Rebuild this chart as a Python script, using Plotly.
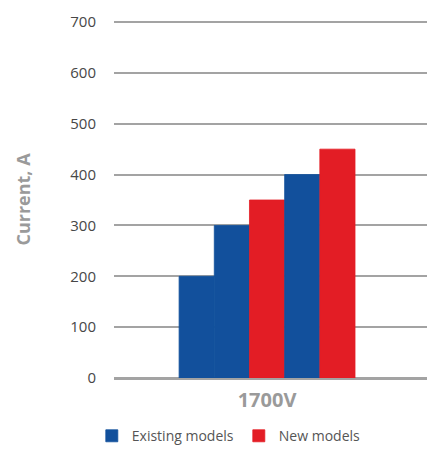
import plotly.graph_objects as go

category = ["1700V"]
series_names = ["Existing models", "Existing models", "New models", "Existing models", "New models"]
series_values = [200, 300, 350, 400, 450]
y_ticks = [0, 100, 200, 300, 400, 500, 600, 700]

colors = {"Existing models": "#12509c", "New models": "#e31d25"}

fig = go.Figure()
shown = set()
for name, val in zip(series_names, series_values):
    fig.add_trace(go.Bar(
        x=category, y=[val], name=name, legendgroup=name,
        showlegend=name not in shown,
        marker=dict(color=colors[name], line=dict(width=0.8, color=colors[name])),
    ))
    shown.add(name)

fig.update_layout(
    width=427, height=454,
    margin=dict(l=114, r=0, t=21, b=76),
    paper_bgcolor="white", plot_bgcolor="white",
    barmode="group", bargap=0.438, bargroupgap=0,
    font=dict(family="Open Sans", color="#555555"),
    showlegend=True,
    legend=dict(orientation="h", xref="container", x=0.215, xanchor="left",
                yref="container", y=0.004, yanchor="bottom",
                font=dict(size=14, color="#555555"), itemwidth=30,
                traceorder="normal"),
    xaxis=dict(range=[-0.489, 0.511], showgrid=False, showline=False, ticks="",
               tickfont=dict(size=20, color="#9a9a9a", family="Open Sans", weight="bold"),
               ticklabelstandoff=8, automargin=False),
    yaxis=dict(range=[0, 702], tickvals=y_ticks, showgrid=True, gridcolor="#a3a3a3", gridwidth=1.5,
               zeroline=True, zerolinecolor="#a3a3a3", zerolinewidth=3,
               showline=False, ticks="", ticklabelstandoff=17, automargin=False,
               tickfont=dict(size=15, color="#474747"),
               title=dict(text="Current, A", standoff=34,
                          font=dict(size=18, color="#9a9a9a", family="Open Sans", weight="bold"))),
)

fig.write_html("out.html", config={"displayModeBar": False},
               post_script="document.body.style.margin='0';document.body.style.overflow='hidden';")
